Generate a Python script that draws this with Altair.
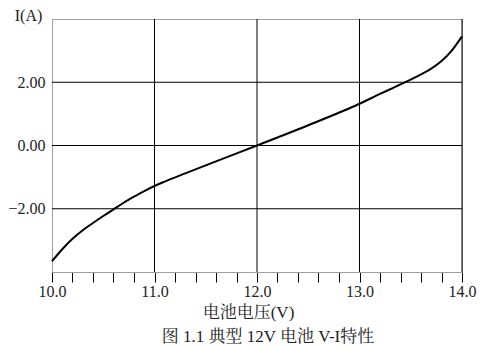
import altair as alt
import pandas as pd

# Curve data
voltage = [10.0, 10.1, 10.2, 10.3, 10.4, 10.5, 10.6, 10.7, 10.8, 10.9, 11.0, 11.1, 11.3,
           11.6, 12.0, 12.5, 13.0, 13.2, 13.4, 13.6, 13.7, 13.8, 13.9, 14.0]
current = [-3.66, -3.28, -2.95, -2.68, -2.45, -2.23, -2.02, -1.81, -1.62, -1.44, -1.28, -1.14, -0.88,
           -0.50, 0.0, 0.64, 1.32, 1.63, 1.93, 2.25, 2.43, 2.67, 3.0, 3.45]

x_grid = [11.0, 12.0, 13.0, 14.0]
y_grid = [-2.0, 0.0, 2.0]
x_ticks = [10.0, 10.2, 10.4, 10.6, 10.8, 11.0, 11.2, 11.4, 11.6, 11.8, 12.0,
           12.2, 12.4, 12.6, 12.8, 13.0, 13.2, 13.4, 13.6, 13.8, 14.0]

FONT = "Liberation Serif, Noto Serif CJK SC, Noto Sans CJK SC"

df = pd.DataFrame({"v": voltage, "i": current})
xs = alt.Scale(domain=[10, 14], nice=False, zero=False)
ys = alt.Scale(domain=[-4, 4], nice=False, zero=False)

x_axis = alt.Axis(
    values=x_ticks,
    labelExpr="abs(datum.value - round(datum.value)) < 0.001 ? format(datum.value, '.1f') : ''",
    grid=False, domain=True, domainColor="#a0a0a0",
    ticks=True, tickColor="#000", tickSize=10, labelPadding=1,
    labelFont=FONT, labelFontSize=16, labelColor="#222", labelFlush=False,
    labelOverlap=False,
    title="电池电压(V)", titleFont=FONT, titleFontSize=17, titleFontWeight="normal",
    titleColor="#222", titleX=196, titleY=40, titleBaseline="middle",
)
y_axis = alt.Axis(
    values=y_grid, format=".2f", grid=False, domain=True, domainColor="#a0a0a0",
    ticks=False, labelPadding=7, labelFont=FONT, labelFontSize=16, labelColor="#222",
    labelOverlap=False,
    title="I(A)", titleAngle=0, titleFont=FONT, titleFontSize=16, titleFontWeight="normal",
    titleColor="#222", titleX=-24, titleY=1, titleAlign="center", titleBaseline="alphabetic",
)

vgrid = alt.Chart(pd.DataFrame({"v": x_grid})).mark_rule(color="#000", strokeWidth=1).encode(
    x=alt.X("v:Q", scale=xs, axis=x_axis)
)
hgrid = alt.Chart(pd.DataFrame({"i": y_grid})).mark_rule(color="#000", strokeWidth=1).encode(
    y=alt.Y("i:Q", scale=ys, axis=y_axis)
)
curve = alt.Chart(df).mark_line(color="#000", strokeWidth=2, interpolate="monotone").encode(
    x=alt.X("v:Q", scale=xs, axis=x_axis),
    y=alt.Y("i:Q", scale=ys, axis=y_axis),
)

chart = alt.layer(vgrid, hgrid, curve).properties(
    width=410, height=253,
    autosize=alt.AutoSizeParams(type="none"),
    padding={"left": 52, "top": 19, "right": 35, "bottom": 78},
    title=alt.TitleParams(
        text="图 1.1 典型 12V 电池 V-I特性", orient="bottom", anchor="middle",
        font=FONT, fontSize=17, fontWeight="normal", color="#222", offset=9, dx=11,
    ),
    background="white",
).configure_view(stroke="#a0a0a0", strokeWidth=1).configure_axis(labelOverlap=False)

chart.save("out.html", embed_options={"renderer": "svg", "actions": False})
